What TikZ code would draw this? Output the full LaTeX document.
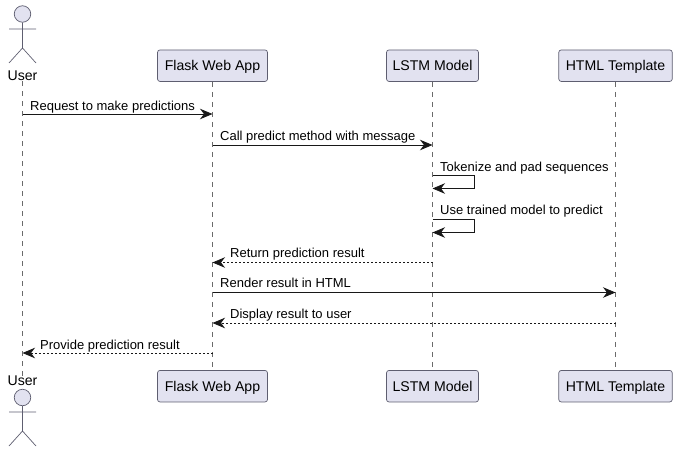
\documentclass[tikz,border=0pt]{standalone}
\usepackage{fontspec}
\setmainfont{Liberation Sans}
\usetikzlibrary{arrows.meta}
\definecolor{partfill}{HTML}{E2E2F0}
\definecolor{partline}{HTML}{5E5E70}
\definecolor{lifeline}{HTML}{6A6A6A}
\definecolor{msg}{HTML}{181818}
\tikzset{
  x=1pt,y=-1pt,
  partbox/.style={draw=partline,fill=partfill,line width=0.7pt,rounded corners=2.5pt,inner sep=0pt,minimum height=31.5pt,text height=10pt,text depth=0pt,font=\fontsize{14.1}{16}\selectfont,text=black},
  lifeln/.style={draw=lifeline,line width=0.6pt,dash pattern=on 5pt off 5pt},
  actorln/.style={draw=partline,line width=0.7pt},
  actorhead/.style={circle,draw=partline,fill=partfill,line width=0.7pt,minimum size=16.5pt,inner sep=0pt},
  actorname/.style={inner sep=0pt,font=\fontsize{14.1}{16}\selectfont,text=black},
  msgline/.style={draw=msg,line width=0.8pt,-{Stealth[length=12.5pt,width=10.5pt,inset=4pt,fill=msg]}},
  retline/.style={msgline,dash pattern=on 2pt off 2pt},
  msglabel/.style={anchor=base west,inner sep=0pt,font=\fontsize{13}{15}\selectfont,text=black},
}
\begin{document}
\begin{tikzpicture}
\useasboundingbox (0,0) rectangle (677,452);
% participants
\node[partbox,minimum width=110pt] (flask) at (212.5,65.7) {Flask Web App};
\node[partbox,minimum width=92pt] (lstm) at (432.5,65.7) {LSTM Model};
\node[partbox,minimum width=113.5pt] (html) at (615.5,65.7) {HTML Template};
\node[partbox,minimum width=110pt] (flaskb) at (212.5,386.2) {Flask Web App};
\node[partbox,minimum width=92pt] (lstmb) at (432.5,386.2) {LSTM Model};
\node[partbox,minimum width=113.5pt] (htmlb) at (615.5,386.2) {HTML Template};
\node[actorname] (user) at (22.5,76) {User};
\node[actorname] (userb) at (22.5,381) {User};
% lifelines
\draw[lifeln] (user.south) -- (userb.north);
\draw[lifeln] (flask.south) -- (flaskb.north);
\draw[lifeln] (lstm.south) -- (lstmb.north);
\draw[lifeln] (html.south) -- (htmlb.north);
% actors
\node[actorhead] (uh) at (22.5,14) {};
\draw[actorln] (uh.south) -- (22.5,48) (9,29) -- (36,29) (9,63) -- (22.5,48) -- (36,63);
\node[actorhead] (uhb) at (22.5,397.5) {};
\draw[actorln] (uhb.south) -- (22.5,431) (9,412) -- (36,412) (9,446) -- (22.5,431) -- (36,446);
% message end points
\coordinate (a1) at (user.south |- 0,114);  \coordinate (b1) at (flask.south |- 0,114);
\coordinate (a2) at (flask.south |- 0,145); \coordinate (b2) at (lstm.south |- 0,145);
\coordinate (a3) at (lstm.south |- 0,175.5);\coordinate (b3) at (lstm.south |- 0,188.5);
\coordinate (a4) at (lstm.south |- 0,219.5);\coordinate (b4) at (lstm.south |- 0,232.5);
\coordinate (a5) at (lstm.south |- 0,262.5);\coordinate (b5) at (flask.south |- 0,262.5);
\coordinate (a6) at (flask.south |- 0,292.5);\coordinate (b6) at (html.south |- 0,292.5);
\coordinate (a7) at (html.south |- 0,323);  \coordinate (b7) at (flask.south |- 0,323);
\coordinate (a8) at (flask.south |- 0,353); \coordinate (b8) at (user.south |- 0,353);
% messages
\draw[msgline] (a1) -- (b1);
\draw[msgline] (a2) -- (b2);
\draw[msgline] (a3) -- ++(42,0) -- ++(0,13) -- (b3);
\draw[msgline] (a4) -- ++(42,0) -- ++(0,13) -- (b4);
\draw[retline] (a5) -- (b5);
\draw[msgline] (a6) -- (b6);
\draw[retline] (a7) -- (b7);
\draw[retline] (a8) -- (b8);
% labels
\node[msglabel] (l1) at (30,110) {Request to make predictions};
\node[msglabel] (l2) at (220,140.5) {Call predict method with message};
\node[msglabel] (l3) at (440,171) {Tokenize and pad sequences};
\node[msglabel] (l4) at (440,214.3) {Use trained model to predict};
\node[msglabel] (l5) at (230,257.3) {Return prediction result};
\node[msglabel] (l6) at (220,287.8) {Render result in HTML};
\node[msglabel] (l7) at (230,318.3) {Display result to user};
\node[msglabel] (l8) at (40,349.2) {Provide prediction result};
\end{tikzpicture}
\end{document}
